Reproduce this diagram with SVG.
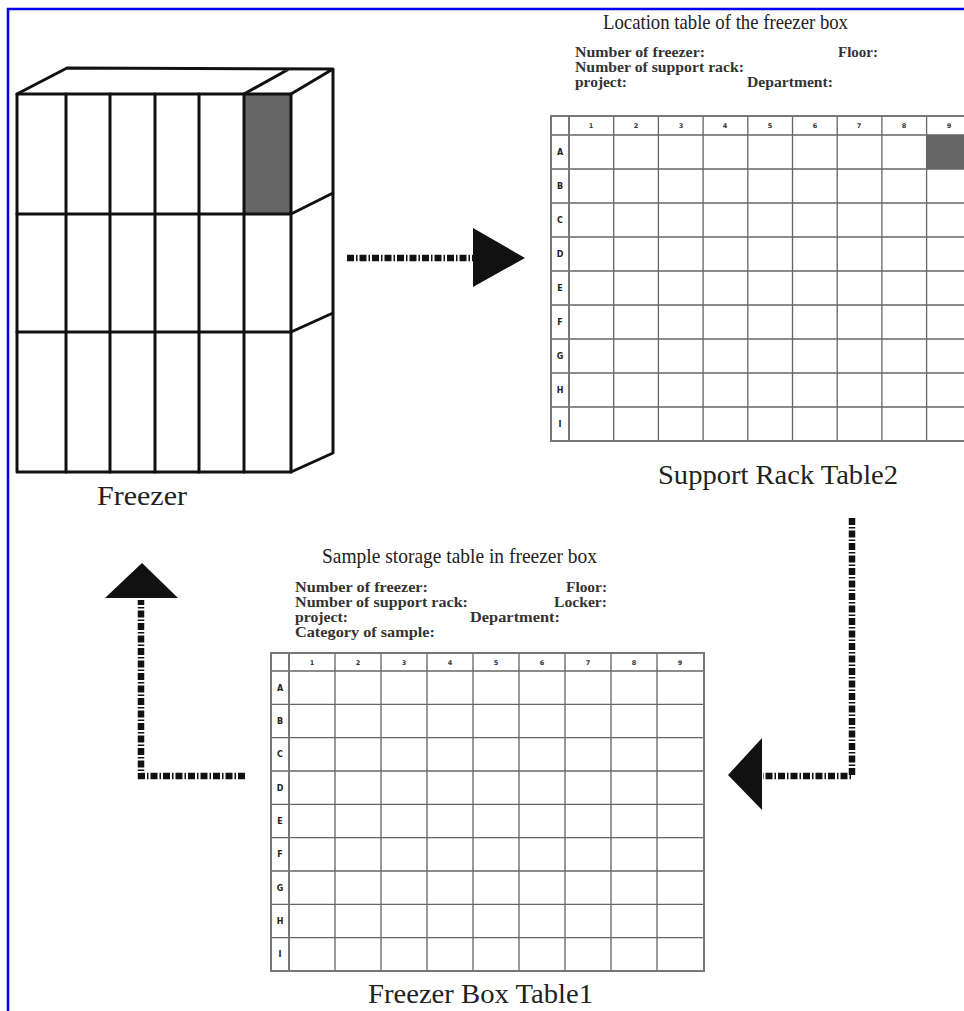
<svg xmlns="http://www.w3.org/2000/svg" width="964" height="1011" viewBox="0 0 964 1011">
  <style>
    .frame { fill: none; stroke: #0000ee; stroke-width: 2.5; }
    .fz { fill: none; stroke: #111; stroke-width: 3; stroke-linejoin: round; stroke-linecap: round; }
    .shade { fill: #666; }
    .grid { fill: none; stroke: #666; stroke-width: 1.3; }
    .outer { fill: none; stroke: #777; stroke-width: 2; }
    .caption { font-family: "Liberation Serif", "DejaVu Serif", serif; font-size: 28px; fill: #222; }
    .title { font-family: "Liberation Serif", "DejaVu Serif", serif; font-size: 21px; fill: #222; }
    .field { font-family: "Liberation Serif", "DejaVu Serif", serif; font-size: 15px; font-weight: bold; fill: #333; }
    .num { font-family: "DejaVu Sans", sans-serif; font-size: 6.5px; font-weight: bold; fill: #333; text-anchor: middle; }
    .row { font-family: "DejaVu Sans", sans-serif; font-size: 8px; font-weight: bold; fill: #222; text-anchor: middle; }
    .dash { fill: none; stroke: #111; stroke-width: 6.5; stroke-dasharray: 7 2 1.5 2; }
    .head { fill: #111; }
  </style>

  <rect class="frame" x="8" y="9" width="970" height="1020"/>

  <!-- Freezer cabinet drawn in perspective -->
  <g id="freezer">
    <rect class="shade" x="244" y="94" width="47" height="120"/>
    <path class="fz" d="M17,94 L67,68 L333,69 L291,94 M244,94 L289,69 M333,69 L333,453 L291,472 M291,214 L333,193 M291,332 L333,313"/>
    <rect class="fz" x="17" y="94" width="274" height="378"/>
    <path class="fz" d="M17,214 H291 M17,332 H291 M66,94 V472 M110,94 V472 M155,94 V472 M199,94 V472 M244,94 V472"/>
    <text class="caption" x="97" y="505" textLength="90" lengthAdjust="spacingAndGlyphs">Freezer</text>
  </g>

  <!-- Support rack location table -->
  <g id="rack-table">
    <text class="title" x="603" y="29" textLength="245" lengthAdjust="spacingAndGlyphs">Location table of the freezer box</text>
    <text class="field" x="575" y="57" textLength="130" lengthAdjust="spacingAndGlyphs">Number of freezer:</text>
    <text class="field" x="838" y="57" textLength="40" lengthAdjust="spacingAndGlyphs">Floor:</text>
    <text class="field" x="575" y="72" textLength="169" lengthAdjust="spacingAndGlyphs">Number of support rack:</text>
    <text class="field" x="575" y="87" textLength="52" lengthAdjust="spacingAndGlyphs">project:</text>
    <text class="field" x="747" y="87" textLength="86" lengthAdjust="spacingAndGlyphs">Department:</text>

    <rect class="shade" x="927" y="135" width="40" height="34"/>
    <path class="grid" d="M551,135 H971 M551,169 H971 M551,203 H971 M551,237 H971 M551,271 H971 M551,305 H971 M551,339 H971 M551,373 H971 M551,407 H971
      M613.7,116 V441 M658.4,116 V441 M703.1,116 V441 M747.8,116 V441 M792.5,116 V441 M837.2,116 V441 M881.9,116 V441 M926.6,116 V441"/>
    <path class="outer" d="M569,116 V441"/>
    <rect class="outer" x="551" y="116" width="430" height="325"/>

    <g class="num">
      <text x="591" y="128">1</text><text x="636" y="128">2</text><text x="681" y="128">3</text>
      <text x="725" y="128">4</text><text x="770" y="128">5</text><text x="815" y="128">6</text>
      <text x="859" y="128">7</text><text x="904" y="128">8</text><text x="949" y="128">9</text>
    </g>
    <g class="row">
      <text x="560" y="155">A</text><text x="560" y="189">B</text><text x="560" y="223">C</text>
      <text x="560" y="257">D</text><text x="560" y="291">E</text><text x="560" y="325">F</text>
      <text x="560" y="359">G</text><text x="560" y="393">H</text><text x="560" y="427">I</text>
    </g>
    <text class="caption" x="658" y="484" textLength="240" lengthAdjust="spacingAndGlyphs">Support Rack Table2</text>
  </g>

  <!-- Sample storage table inside a freezer box -->
  <g id="box-table">
    <text class="title" x="322" y="563" textLength="275" lengthAdjust="spacingAndGlyphs">Sample storage table in freezer box</text>
    <text class="field" x="295" y="592" textLength="133" lengthAdjust="spacingAndGlyphs">Number of freezer:</text>
    <text class="field" x="566" y="592" textLength="41" lengthAdjust="spacingAndGlyphs">Floor:</text>
    <text class="field" x="295" y="607" textLength="173" lengthAdjust="spacingAndGlyphs">Number of support rack:</text>
    <text class="field" x="554" y="607" textLength="53" lengthAdjust="spacingAndGlyphs">Locker:</text>
    <text class="field" x="295" y="622" textLength="53" lengthAdjust="spacingAndGlyphs">project:</text>
    <text class="field" x="470" y="622" textLength="90" lengthAdjust="spacingAndGlyphs">Department:</text>
    <text class="field" x="295" y="637" textLength="140" lengthAdjust="spacingAndGlyphs">Category of sample:</text>

    <path class="grid" d="M271,671 H704 M271,704.3 H704 M271,737.7 H704 M271,771 H704 M271,804.3 H704 M271,837.7 H704 M271,871 H704 M271,904.3 H704 M271,937.7 H704
      M335,653 V971 M381,653 V971 M427,653 V971 M473,653 V971 M519,653 V971 M565,653 V971 M611,653 V971 M657,653 V971"/>
    <path class="outer" d="M289,653 V971"/>
    <rect class="outer" x="271" y="653" width="433" height="318"/>

    <g class="num">
      <text x="312" y="665">1</text><text x="358" y="665">2</text><text x="404" y="665">3</text>
      <text x="450" y="665">4</text><text x="496" y="665">5</text><text x="542" y="665">6</text>
      <text x="588" y="665">7</text><text x="634" y="665">8</text><text x="680" y="665">9</text>
    </g>
    <g class="row">
      <text x="280" y="691">A</text><text x="280" y="724">B</text><text x="280" y="757">C</text>
      <text x="280" y="791">D</text><text x="280" y="824">E</text><text x="280" y="857">F</text>
      <text x="280" y="891">G</text><text x="280" y="924">H</text><text x="280" y="957">I</text>
    </g>
    <text class="caption" x="368" y="1003" font-size="26" textLength="225" lengthAdjust="spacingAndGlyphs">Freezer Box Table1</text>
  </g>

  <!-- Flow connectors -->
  <g id="connectors">
    <path class="dash" d="M347,258 H474"/>
    <polygon class="head" points="473,228 473,287 525,258"/>

    <path class="dash" d="M852,518 V776 H763"/>
    <polygon class="head" points="762,738 762,810 728,775"/>

    <path class="dash" d="M245,776 H141 V600"/>
    <polygon class="head" points="105,598 178,598 142,563"/>
  </g>
</svg>
